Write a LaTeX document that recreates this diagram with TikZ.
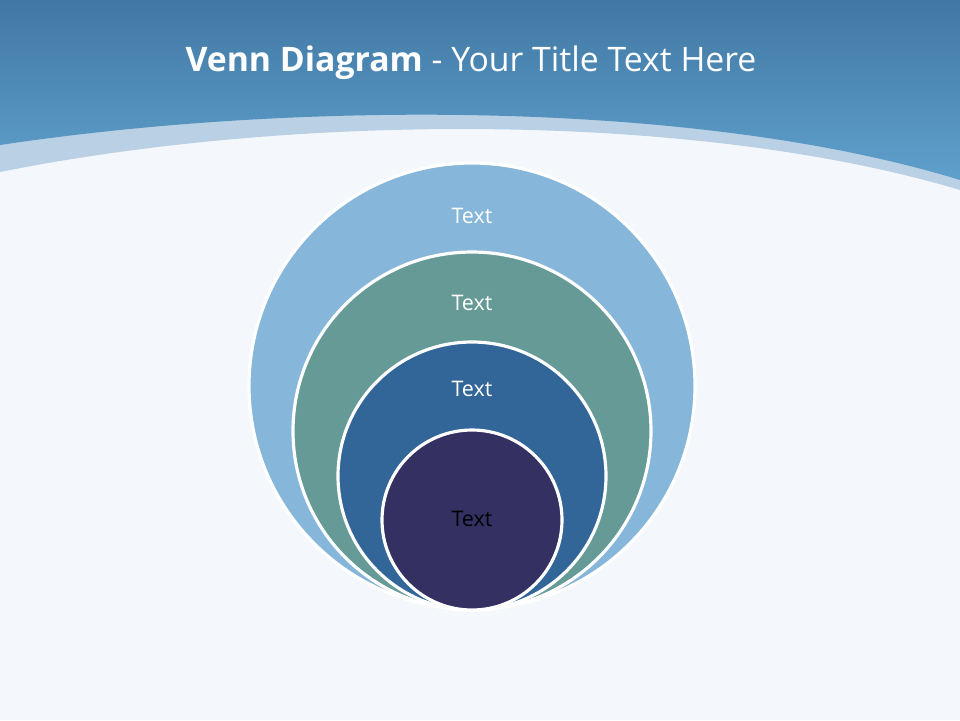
\documentclass[tikz,border=0pt]{standalone}
\usepackage{fontspec}
\setmainfont{Open Sans}
\begin{document}
\begin{tikzpicture}[x=0.01cm,y=-0.01cm,
  ring/.style={circle,draw=white,line width=0.9pt,inner sep=0pt},
  lbl/.style={font=\fontsize{6.1}{7}\selectfont,text=white}]
\useasboundingbox (0,0) rectangle (960,720);
\fill[color={rgb,255:red,244;green,248;blue,252}] (0,0) rectangle (960,720);
\fill[color={rgb,255:red,186;green,208;blue,228}] (0,0) -- (0,172) .. controls (300,112) and (700,112) .. (960,190) -- (960,0) -- cycle;
\shade[top color={rgb,255:red,64;green,120;blue,163}, bottom color={rgb,255:red,96;green,160;blue,205}] (0,0) -- (0,145) .. controls (300,100) and (700,100) .. (960,180) -- (960,0) -- cycle;
\node[font=\fontsize{9.6}{11}\selectfont,text=white] (title) at (471,63) {\textbf{Venn Diagram} - Your Title Text Here};
\node[ring,fill={rgb,255:red,134;green,182;blue,218},minimum size=446*0.01cm] (c1) at (472,386) {};
\node[ring,fill={rgb,255:red,102;green,154;blue,151},minimum size=358*0.01cm] (c2) at (472,431) {};
\node[ring,fill={rgb,255:red,50;green,101;blue,152},minimum size=268*0.01cm] (c3) at (472,476) {};
\node[ring,fill={rgb,255:red,52;green,48;blue,98},minimum size=180*0.01cm] (c4) at (472,520) {};
\node[lbl] (t1) at (472,216) {Text};
\node[lbl] (t2) at (472,303) {Text};
\node[lbl] (t3) at (472,389) {Text};
\node[lbl,text=black] (t4) at (472,519) {Text};
\end{tikzpicture}
\end{document}
